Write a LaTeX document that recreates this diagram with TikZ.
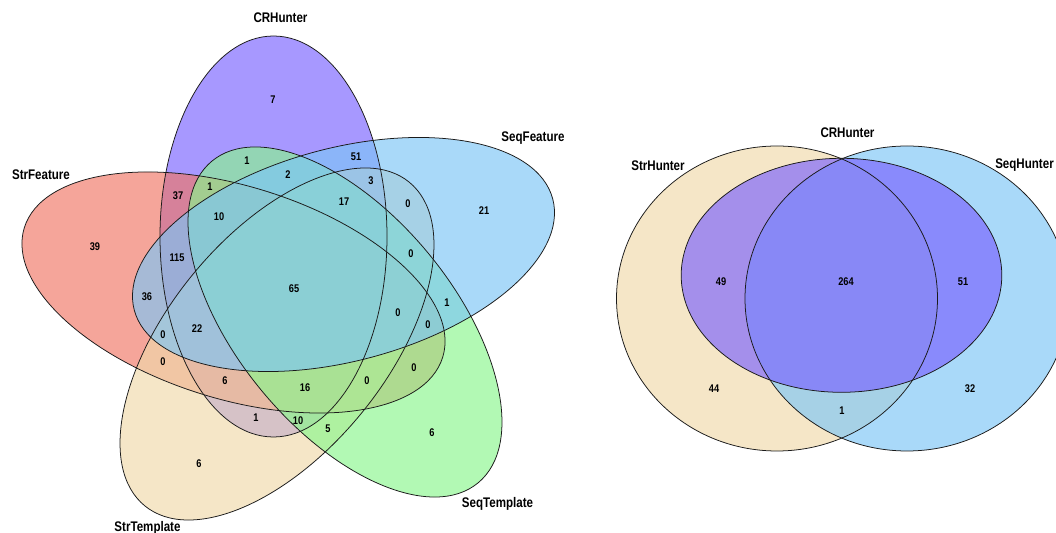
\documentclass[tikz,border=0pt]{standalone}
\usepackage{fontspec}
\usepackage{xcolor}
\newfontfamily\vennfont{Liberation Sans}[FakeStretch=0.83]
\definecolor{CRPurple}{HTML}{7961FF}
\definecolor{SeqBlue}{HTML}{7CC6F7}
\definecolor{TplGreen}{HTML}{89F78C}
\definecolor{TplTan}{HTML}{F0D9AA}
\definecolor{FeatRed}{HTML}{F07565}
\definecolor{EdgeGray}{HTML}{1A1A1A}

\begin{document}
\begin{tikzpicture}[
  x=0.03cm, y=0.03cm,
  % Grundstile
  vennfill/.style={
    fill=#1,
    fill opacity=0.65
  },
  vennline/.style={
    draw=EdgeGray,
    line width=0.65pt
  },
  setlbl/.style={
    font=\vennfont\bfseries\fontsize{11.9}{14}\selectfont,
    inner sep=0pt
  },
  cnt/.style={
    font=\vennfont\bfseries\fontsize{9.5}{11}\selectfont,
    inner sep=0pt
  }
]

% =============================================================================
% HINTERGRUND
% =============================================================================
\useasboundingbox (0,0) rectangle (1056,533);
\fill[white] (0,0) rectangle (1056,533);

% =============================================================================
% LINKE SEITE: fuenf Mengen
% =============================================================================
% Flaechen zuerst, Umrisse danach
\foreach \cx/\cy/\rx/\ry/\rot/\col in {273.5/296.5/113.5/200.5/0/CRPurple,
    233.5/240.5/219/106.4/-17.2/FeatRed, 277/189/209/109.2/50.75/TplTan,
    345/211/208.8/108/-50.4/TplGreen, 343.5/278.5/216.5/106.5/14.9/SeqBlue} {
  \fill[vennfill=\col] (\cx,\cy) ellipse [x radius=\rx, y radius=\ry, rotate=\rot];
}
\foreach \cx/\cy/\rx/\ry/\rot in {273.5/296.5/113.5/200.5/0,
    233.5/240.5/219/106.4/-17.2, 277/189/209/109.2/50.75,
    345/211/208.8/108/-50.4, 343.5/278.5/216.5/106.5/14.9} {
  \draw[vennline] (\cx,\cy) ellipse [x radius=\rx, y radius=\ry, rotate=\rot];
}

% Mengennamen
\node[setlbl] (crL)  at (280.5,515) {CRHunter};
\node[setlbl] (sfL)  at (41,358)    {StrFeature};
\node[setlbl] (qfL)  at (533,395)   {SeqFeature};
\node[setlbl] (qtL)  at (497.5,29)  {SeqTemplate};
\node[setlbl] (stL)  at (147.5,5)   {StrTemplate};

% Anzahlen
\foreach \x/\y/\n [count=\k] in {273/433/7, 247/372/1, 356/376/51, 288/358/2, 371/352/3,
    178/337/37, 210/346/1, 344/331/17, 408/329/0, 219/316/10, 484/322/21,
    95/286/39, 177/275/115, 411/279/0, 294/244/65, 147/236/36, 447/230/1,
    398/220/0, 428/208/0, 197/204/22, 163/198/0, 163/171/0, 225/152/6,
    305/145/16, 367/152/0, 414/165/0, 256/115/1, 298/112/10, 328/104/5,
    432/100/6, 199/69/6} {
  \node[cnt] (five\k) at (\x,\y) {\n};
}

% =============================================================================
% RECHTE SEITE: drei Mengen
% =============================================================================
\foreach \cx/\cy/\rx/\ry/\col in {777/234.5/160.5/152.5/TplTan,
    907/234.5/162/152.5/SeqBlue, 841.5/257.7/160.3/117/CRPurple} {
  \fill[vennfill=\col] (\cx,\cy) ellipse [x radius=\rx, y radius=\ry];
}
\foreach \cx/\cy/\rx/\ry in {777/234.5/160.5/152.5,
    907/234.5/162/152.5, 841.5/257.7/160.3/117} {
  \draw[vennline] (\cx,\cy) ellipse [x radius=\rx, y radius=\ry];
}

\node[setlbl] (crR) at (847.5,400) {CRHunter};
\node[setlbl] (shR) at (658,367)   {StrHunter};
\node[setlbl] (qhR) at (1024.5,368) {SeqHunter};

\foreach \x/\y/\n [count=\k] in {721/251/49, 846/251/264, 963/251/51,
    714/144/44, 970/144/32, 842/122/1} {
  \node[cnt] (three\k) at (\x,\y) {\n};
}

\end{tikzpicture}
\end{document}
